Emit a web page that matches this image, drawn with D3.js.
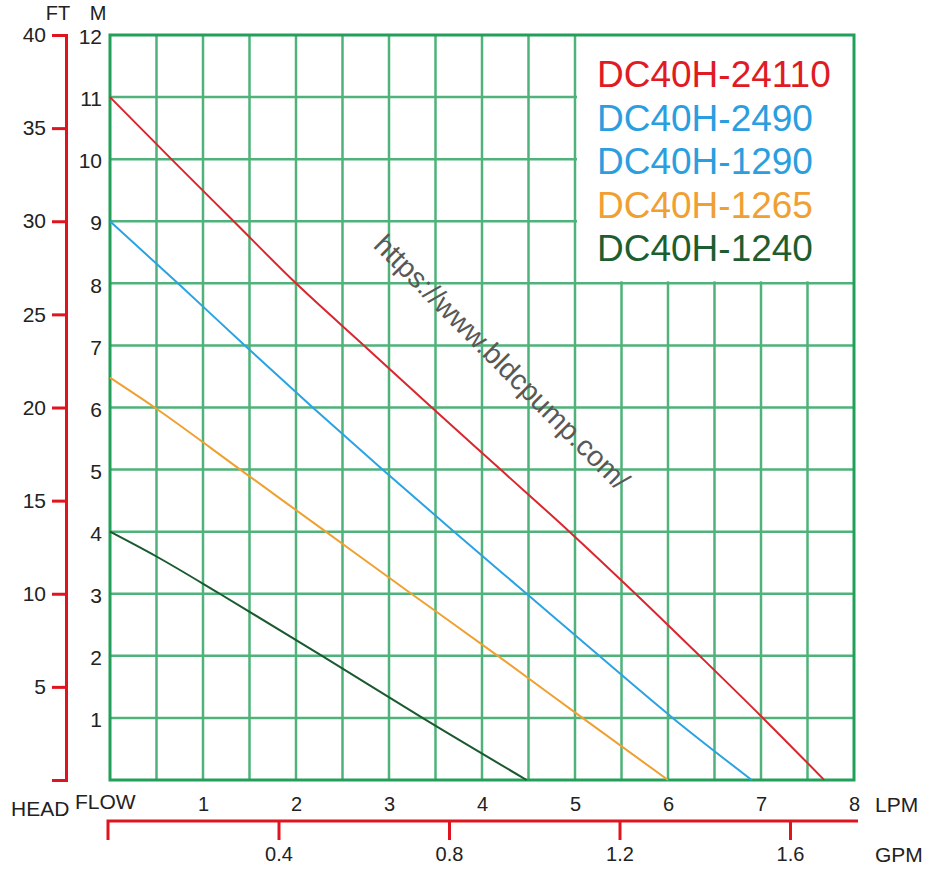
<!DOCTYPE html>
<html>
<head>
    <meta charset="utf-8">
    <title>DC40H pump curves</title>
    <style>
        body { margin: 0; background: #fff; }
        svg { display: block; font-family: "Liberation Sans", Arial, sans-serif; }
        .tick text { fill: #222; }
    </style>
</head>
<body>
    <script src="https://cdnjs.cloudflare.com/ajax/libs/d3/7.8.5/d3.min.js"></script>
    <script>

// tick values
var flowTicks = [1, 2, 3, 4, 5, 6, 7, 8];
var headTicksM = [1, 2, 3, 4, 5, 6, 7, 8, 9, 10, 11, 12];
var headTicksFt = [5, 10, 15, 20, 25, 30, 35, 40];
var gpmTicks = [0.4, 0.8, 1.2, 1.6];

// models, in legend order
var models = ["DC40H-24110", "DC40H-2490", "DC40H-1290", "DC40H-1265", "DC40H-1240"];
var modelColors = ["#e01b24", "#2b9ee0", "#2b9ee0", "#f0a033", "#1d5e30"];

// curves (flow in LPM, head in M)
var flow24110 = [0, 0.66, 1.33, 2.0, 2.73, 3.46, 4.2, 4.94, 5.65, 6.34, 7.02, 7.68];
var head24110 = [11, 10, 9, 8, 7, 6, 5, 4, 3, 2, 1, 0];
var flow2490 = [0, 0.73, 1.45, 2.18, 2.93, 3.7, 4.48, 5.26, 6.05, 6.9];
var head2490 = [9, 8, 7, 6, 5, 4, 3, 2, 1, 0];
var flow1265 = [0, 0.48, 1.4, 2.32, 3.24, 4.17, 5.08, 6.0];
var head1265 = [6.48, 6, 5, 4, 3, 2, 1, 0];
var flow1240 = [0, 0.5, 1.18, 2.28, 3.36, 4.48];
var head1240 = [4, 3.6, 3, 2, 1, 0];

var curves = [
    { flow: flow24110, head: head24110, color: "#d9262f" },
    { flow: flow2490, head: head2490, color: "#2ba3e3" },
    { flow: flow1265, head: head1265, color: "#f0a030" },
    { flow: flow1240, head: head1240, color: "#1b5a2f" }
];

var W = 929, H = 870;
var svg = d3.select("body").append("svg").attr("width", W).attr("height", H);

var x = d3.scaleLinear().domain([0, 8]).range([110, 854]);
var y = d3.scaleLinear().domain([0, 12]).range([780, 35]);
var yFt = d3.scaleLinear().domain([0, 40]).range([780, 35]);
var xGpm = d3.scaleLinear().domain([0, 1.6]).range([108, 790]);

var gridColor = "#4fb27a";
var frameColor = "#22a05a";
var axisRed = "#e0141e";
var fontFam = "Liberation Sans, Arial, sans-serif";

// grid
var grid = svg.append("g");
grid.selectAll("line.v").data(d3.range(0.5, 8, 0.5)).enter().append("line")
    .attr("x1", d => x(d)).attr("x2", d => x(d))
    .attr("y1", y(12)).attr("y2", y(0))
    .attr("stroke", gridColor).attr("stroke-width", 2.5);
grid.selectAll("line.h").data(d3.range(1, 12)).enter().append("line")
    .attr("x1", x(0)).attr("x2", x(8))
    .attr("y1", d => y(d)).attr("y2", d => y(d))
    .attr("stroke", gridColor).attr("stroke-width", 2.5);

// legend area blanks the grid (5..8 LPM, 8..12 M)
svg.append("rect")
    .attr("x", x(5) + 2).attr("y", y(12))
    .attr("width", x(8) - x(5) - 2).attr("height", y(8) - y(12) - 2)
    .attr("fill", "#fff");

// frame
svg.append("rect")
    .attr("x", x(0)).attr("y", y(12))
    .attr("width", x(8) - x(0)).attr("height", y(0) - y(12))
    .attr("fill", "none").attr("stroke", frameColor).attr("stroke-width", 3);

// watermark
svg.append("text")
    .attr("transform", "translate(502,362) rotate(45)")
    .attr("text-anchor", "middle")
    .attr("dy", "0.35em")
    .attr("font-size", 28.5)
    .attr("fill", "#585858")
    .text("https://www.bldcpump.com/");

// curves
var line = d3.line()
    .x(d => x(d[0]))
    .y(d => y(d[1]))
    .curve(d3.curveMonotoneX);

svg.append("g").selectAll("path").data(curves).enter().append("path")
    .attr("d", d => line(d3.zip(d.flow, d.head)))
    .attr("fill", "none")
    .attr("stroke", d => d.color)
    .attr("stroke-width", 2);

// legend
svg.append("g").selectAll("text").data(models).enter().append("text")
    .attr("x", 597)
    .attr("y", (d, i) => 87 + i * 43.5)
    .attr("font-size", 37)
    .attr("fill", (d, i) => modelColors[i])
    .text(d => d);

// M axis
var axM = svg.append("g")
    .attr("transform", "translate(110,0)")
    .call(d3.axisLeft(y).tickValues(headTicksM).tickSize(0).tickPadding(8));
axM.select(".domain").remove();
axM.selectAll("text").attr("font-size", 21).attr("y", 2).style("font-family", fontFam);

// FT axis (red)
var axFt = svg.append("g")
    .attr("transform", "translate(66,0)")
    .call(d3.axisLeft(yFt).tickValues(headTicksFt).tickSizeInner(14).tickSizeOuter(14).tickPadding(6));
axFt.selectAll("path, line").attr("stroke", axisRed).attr("stroke-width", 3);
axFt.selectAll("text").attr("font-size", 21).style("font-family", fontFam);

// LPM axis
var axL = svg.append("g")
    .attr("transform", "translate(0,780)")
    .call(d3.axisBottom(x).tickValues(flowTicks).tickSize(0).tickPadding(17));
axL.select(".domain").remove();
axL.selectAll("text").attr("font-size", 20).style("font-family", fontFam);

// GPM axis (red)
var axG = svg.append("g")
    .attr("transform", "translate(0,821)")
    .call(d3.axisBottom(xGpm).tickValues(gpmTicks).tickSizeInner(19).tickSizeOuter(0).tickPadding(7).tickFormat(d3.format(".1f")));
axG.select(".domain").remove();
axG.append("path")
    .attr("d", "M" + xGpm(0) + ",19V0H858")
    .attr("fill", "none").attr("stroke", axisRed).attr("stroke-width", 3);
axG.selectAll("line").attr("stroke", axisRed).attr("stroke-width", 3);
axG.selectAll("text").attr("font-size", 20).style("font-family", fontFam);

// unit labels
var labels = [
    { t: "FT", x: 58, y: 20, s: 20, a: "middle" },
    { t: "M", x: 98, y: 20, s: 20, a: "middle" },
    { t: "HEAD", x: 11, y: 816, s: 21, a: "start" },
    { t: "FLOW", x: 75, y: 809, s: 21, a: "start" },
    { t: "LPM", x: 875, y: 812, s: 21, a: "start" },
    { t: "GPM", x: 875, y: 862, s: 21, a: "start" }
];
svg.append("g").selectAll("text").data(labels).enter().append("text")
    .attr("x", d => d.x).attr("y", d => d.y)
    .attr("font-size", d => d.s)
    .attr("text-anchor", d => d.a)
    .attr("fill", "#222")
    .text(d => d.t);

    </script>
</body>
</html>
